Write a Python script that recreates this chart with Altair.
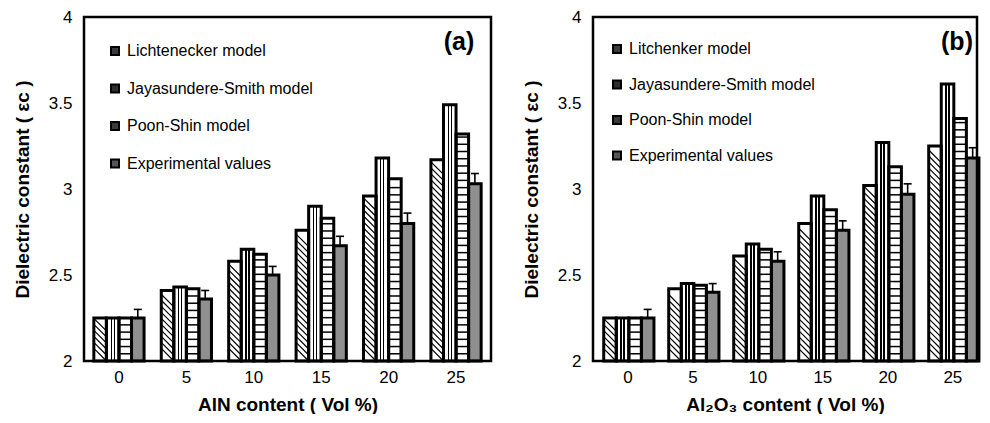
import altair as alt
import pandas as pd

contents = ["0", "5", "10", "15", "20", "25"]
keys = ["L", "J", "P", "E"]
series_a = ["Lichtenecker model", "Jayasundere-Smith model", "Poon-Shin model", "Experimental values"]
series_b = ["Litchenker model", "Jayasundere-Smith model", "Poon-Shin model", "Experimental values"]

a_lich = [2.25, 2.41, 2.58, 2.76, 2.96, 3.17]
a_jaya = [2.25, 2.43, 2.65, 2.90, 3.18, 3.49]
a_poon = [2.25, 2.42, 2.62, 2.83, 3.06, 3.32]
a_exp = [2.25, 2.36, 2.50, 2.67, 2.80, 3.03]
a_err = [0.05, 0.05, 0.05, 0.055, 0.06, 0.06]

b_lich = [2.25, 2.42, 2.61, 2.80, 3.02, 3.25]
b_jaya = [2.25, 2.45, 2.68, 2.96, 3.27, 3.61]
b_poon = [2.25, 2.44, 2.65, 2.88, 3.13, 3.41]
b_exp = [2.25, 2.40, 2.58, 2.76, 2.97, 3.18]
b_err = [0.05, 0.05, 0.055, 0.055, 0.06, 0.06]

FONT = "Liberation Sans"
H = 344


def panel(vals, errs, series, width, pin, pout, align, xtitle, tag, tag_x,
          leg_x, leg_y, leg_row):
    rows = []
    for i, c in enumerate(contents):
        for j, k in enumerate(keys):
            rows.append({"content": c, "key": k, "series": series[j],
                         "value": vals[j][i],
                         "err": errs[i] if k == "E" else 0.0})
    df = pd.DataFrame(rows)
    step = width / (6.0 - pin + 2 * pout)
    bw = step * (1 - pin) / 4.0
    unit = H / 2.0
    half = (bw / 2.0) / unit

    x = alt.X("content:N", sort=contents,
              scale=alt.Scale(paddingInner=pin, paddingOuter=pout, align=align),
              axis=alt.Axis(title=xtitle, labelAngle=0, ticks=False, domain=False,
                            grid=False, labelPadding=8, titlePadding=10))
    xo = alt.XOffset("key:N", scale=alt.Scale(domain=keys, paddingInner=0, paddingOuter=0))
    yscale = alt.Scale(domain=[2, 4], nice=False, zero=False)
    yaxis = alt.Axis(title="Dielectric constant ( εc )", values=[2, 2.5, 3, 3.5, 4],
                     format="~g", ticks=False, domain=False, grid=False,
                     labelPadding=12, titlePadding=16)

    def Y(f):
        return alt.Y(f, scale=yscale, axis=yaxis)

    base = alt.Chart(df)
    y2 = alt.datum(2)

    white = base.transform_filter("datum.key == 'L' || datum.key == 'P'").mark_bar(
        fill="white").encode(x=x, xOffset=xo, y=Y("value:Q"), y2=y2)

    grad = alt.LinearGradient(
        gradient="linear", x1=0, y1=0, x2=1, y2=0,
        stops=[alt.GradientStop(color="white", offset=0),
               alt.GradientStop(color="white", offset=0.33),
               alt.GradientStop(color="black", offset=0.33),
               alt.GradientStop(color="black", offset=0.43),
               alt.GradientStop(color="white", offset=0.43),
               alt.GradientStop(color="white", offset=0.57),
               alt.GradientStop(color="black", offset=0.57),
               alt.GradientStop(color="black", offset=0.67),
               alt.GradientStop(color="white", offset=0.67),
               alt.GradientStop(color="white", offset=1)])
    jbar = base.transform_filter("datum.key == 'J'").mark_bar(
        fill=grad).encode(x=x, xOffset=xo, y=Y("value:Q"), y2=y2)

    ebar = base.transform_filter("datum.key == 'E'").mark_bar(
        fill="#8f8f8f").encode(x=x, xOffset=xo, y=Y("value:Q"), y2=y2)

    hatch = base.transform_filter("datum.key == 'L'").transform_calculate(
        ys="sequence(2 + %f, datum.value - %f + 0.0001, 0.035)" % (half, half)
    ).transform_flatten(["ys"]).mark_point(
        shape="M-1,-1L1,1", size=(bw - 1) ** 2, filled=False, color="black",
        strokeWidth=1.2, opacity=1).encode(x=x, xOffset=xo, y=Y("ys:Q"))

    stripes = base.transform_filter("datum.key == 'P'").transform_calculate(
        ys="sequence(2.042, datum.value - 0.015, 0.042)"
    ).transform_flatten(["ys"]).mark_point(
        shape="M-1,0L1,0", size=(bw) ** 2, filled=False, color="black",
        strokeWidth=1.5, opacity=1).encode(x=x, xOffset=xo, y=Y("ys:Q"))

    outline = base.mark_bar(fill="transparent", stroke="black", strokeWidth=3,
                            strokeOpacity=1).encode(
        x=x, xOffset=xo, y=Y("value:Q"), y2=y2)

    errdf = base.transform_filter("datum.key == 'E'").transform_calculate(
        top="datum.value + datum.err")
    erule = errdf.mark_rule(color="black", strokeWidth=1.6, strokeOpacity=1).encode(
        x=x, xOffset=xo, y=Y("value:Q"), y2="top:Q")
    ecap = errdf.mark_tick(color="black", size=8, thickness=1.6, opacity=1).encode(
        x=x, xOffset=xo, y=Y("top:Q"))

    leg = base.mark_point(shape="square", filled=True, size=0).encode(
        x=x, xOffset=xo, y=Y("value:Q"),
        fill=alt.Fill("series:N", sort=series,
                      scale=alt.Scale(domain=series,
                                      range=["#3a3a3a", "#2e2e2e", "#3a3a3a", "#555555"]),
                      legend=alt.Legend(title=None, orient="none", legendX=leg_x,
                                        legendY=leg_y, symbolType="square",
                                        symbolSize=64, symbolStrokeColor="black",
                                        symbolStrokeWidth=2, symbolOpacity=1,
                                        labelFontSize=16, labelFont=FONT,
                                        labelColor="black", labelOffset=4,
                                        labelLimit=0,
                                        rowPadding=leg_row, padding=0)))

    tagc = alt.Chart(pd.DataFrame({"tag": [tag]})).mark_text(
        font=FONT, fontSize=25, fontWeight="bold", align="center",
        baseline="middle", color="black").encode(
        text="tag:N", x=alt.value(tag_x), y=alt.value(25))

    frame = alt.Chart(pd.DataFrame({"f": [0]})).mark_rect(
        filled=False, stroke="black", strokeWidth=2.5, strokeOpacity=1).encode(
        x=alt.value(0), x2=alt.value(width), y=alt.value(0), y2=alt.value(H))

    return alt.layer(white, jbar, ebar, hatch, stripes, outline, erule, ecap, leg, tagc,
                     frame).properties(width=width, height=H)


pa = panel([a_lich, a_jaya, a_poon, a_exp], a_err, series_a, 407, 0.255, 0.146, 0.5,
           "AlN content ( Vol %)", "(a)", 375, 23, 26, 21.5)
pb = panel([b_lich, b_jaya, b_poon, b_exp], b_err, series_b, 384, 0.257, 0.0825, 1,
           "Al₂O₃ content ( Vol %)", "(b)", 364, 16, 24, 19.5)

chart = alt.hconcat(pa, pb, spacing=29).resolve_scale(
    x="independent", y="independent", fill="independent"
).resolve_legend(fill="independent").configure_view(
    stroke=None
).configure_axis(
    labelFont=FONT, titleFont=FONT, labelFontSize=17, titleFontSize=19,
    titleFontWeight="bold", labelColor="black", titleColor="black"
).properties(padding={"left": 5, "top": 0, "right": 0, "bottom": 0})

chart.save("out.html", embed_options={"renderer": "svg", "actions": False})
